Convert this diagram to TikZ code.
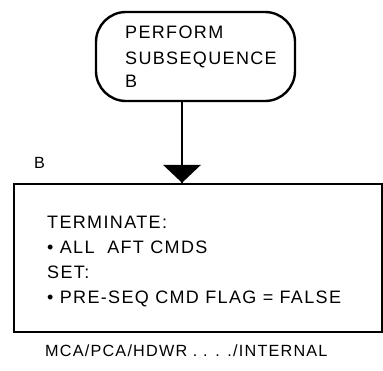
\documentclass[tikz,border=0pt]{standalone}
\usepackage{fontspec}
\setmainfont{Liberation Sans}[LetterSpace=7.5]
\begin{document}
\begin{tikzpicture}[x=1pt,y=-1pt,
  txt/.style={anchor=base west,inner sep=0pt,font=\fontsize{18}{20}\selectfont},
  smalltxt/.style={anchor=base west,inner sep=0pt,font=\fontsize{16.2}{18}\selectfont},
  frame/.style={draw,line width=2.4pt,inner sep=0pt}]
\useasboundingbox (0,0) rectangle (383,370);
\node[frame,rounded corners=30pt,minimum width=199pt,minimum height=89pt] (term) at (195.5,56.5) {};
\node[txt] (t1) at (125,38.5) {PERFORM};
\node[txt] (t2) at (125,64) {SUBSEQUENCE};
\node[txt] (t3) at (125,87.5) {B};
\node[frame,minimum width=368pt,minimum height=148pt] (box) at (198,258) {};
\coordinate (aS) at ([xshift=-13.5pt]term.south);
\coordinate (aE) at (aS |- box.north);
\draw[line width=2.4pt] (aS) -- (aE);
\fill (aE) -- ++(-19,-18) -- ++(38,0) -- cycle;
\node[smalltxt] (lb) at (34,168) {B};
\node[txt] (b1) at (47,228) {TERMINATE:};
\node[txt] (b2) at (47,253) {\textbullet{} ALL\ \ AFT CMDS};
\node[txt] (b3) at (47,278) {SET:};
\node[txt] (b4) at (47,303) {\textbullet{} PRE-SEQ CMD FLAG = FALSE};
\node[smalltxt] (foot) at (45,356) {MCA/PCA/HDWR . . . ./INTERNAL};
\end{tikzpicture}
\end{document}
